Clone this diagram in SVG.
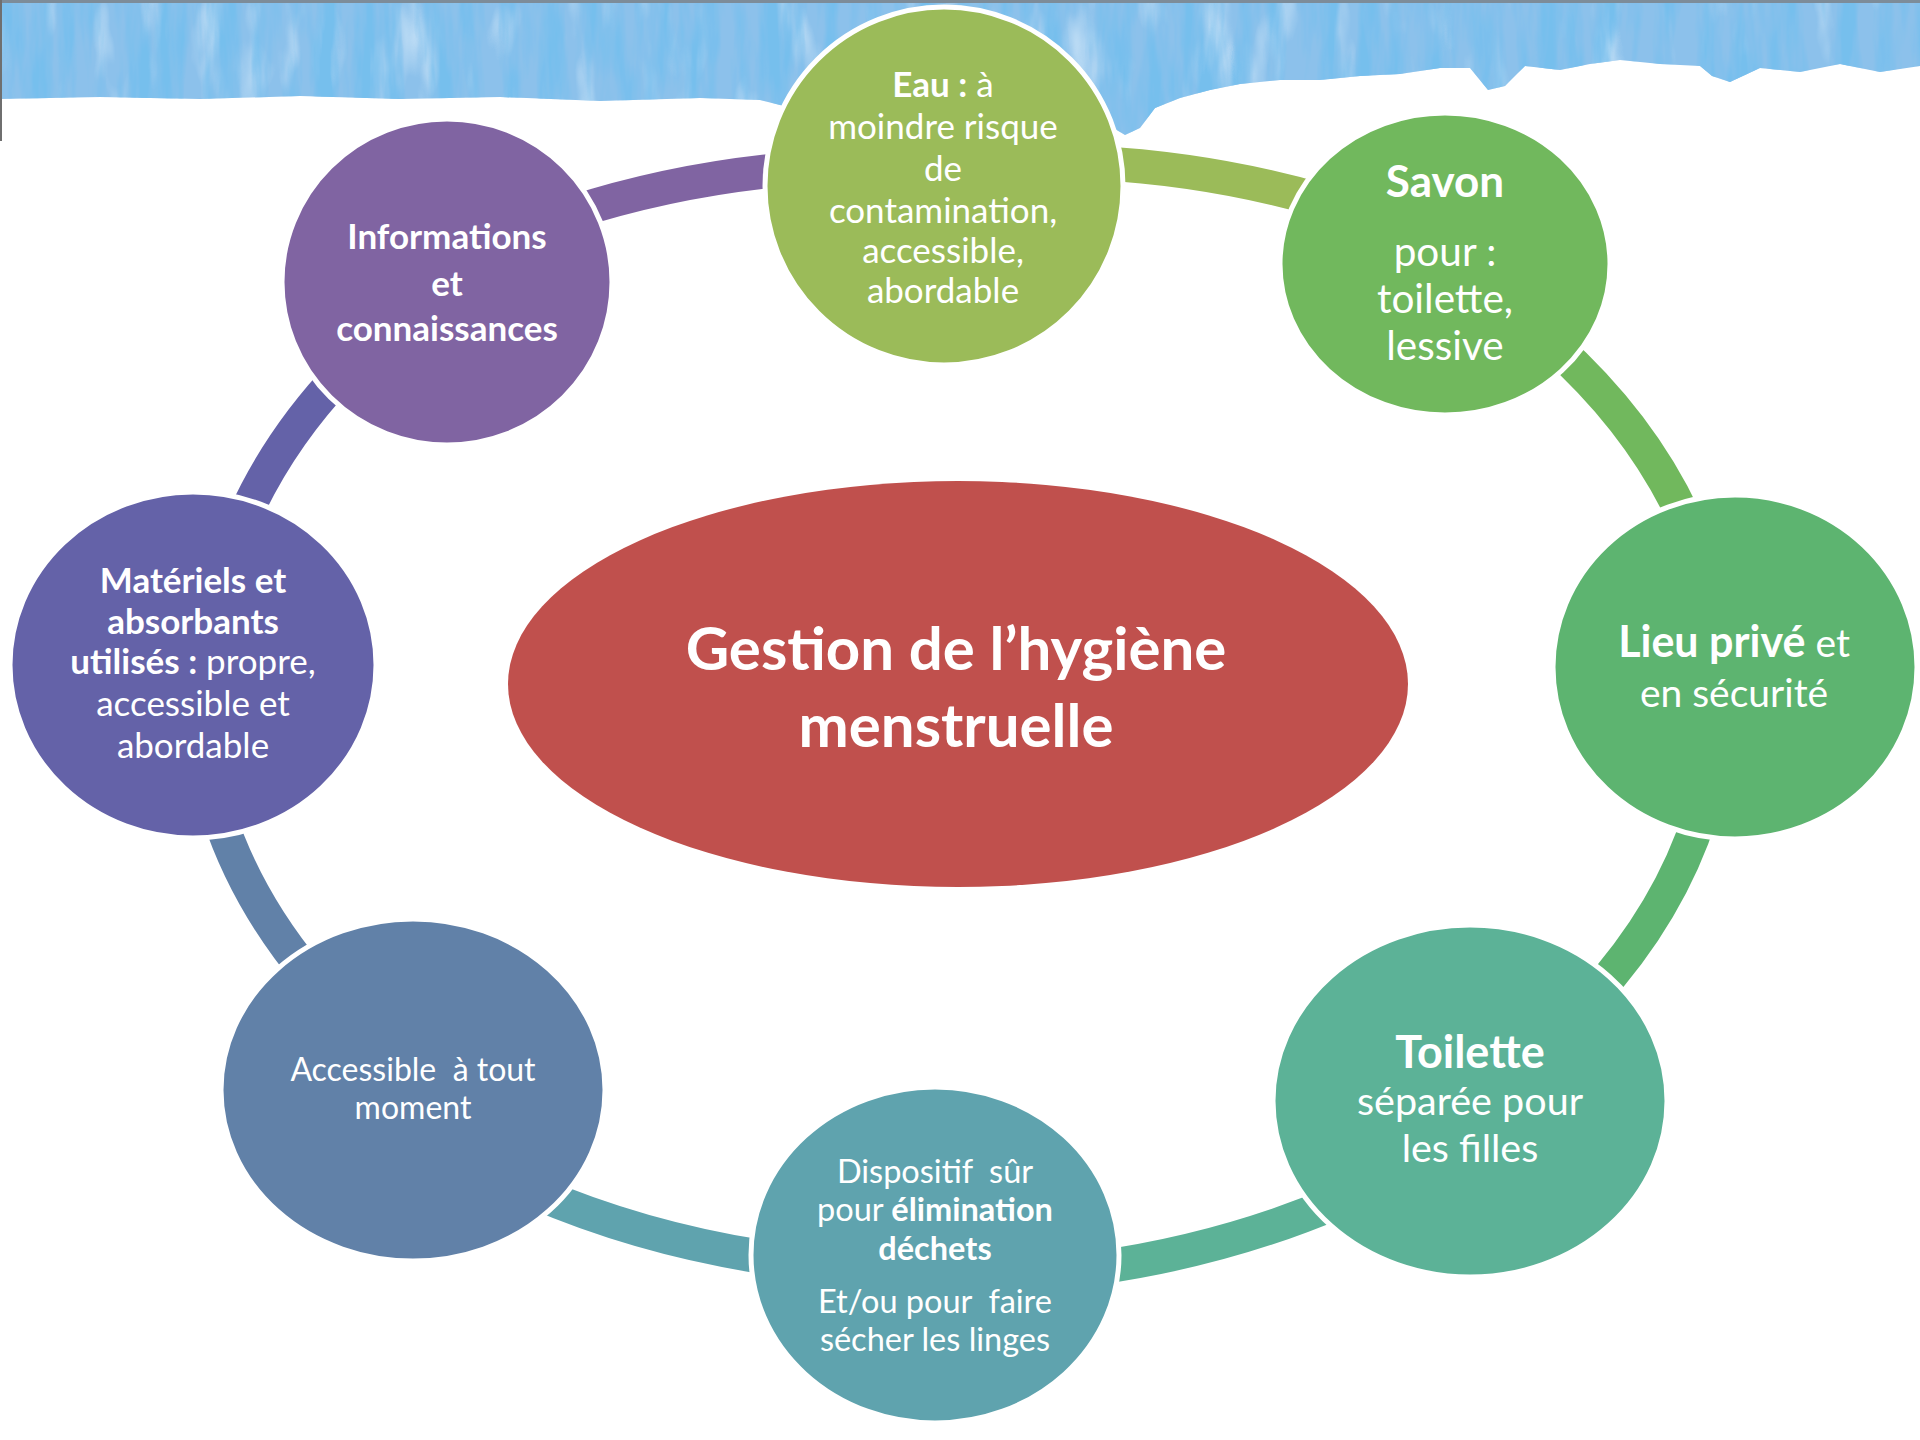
<svg xmlns="http://www.w3.org/2000/svg" width="1920" height="1440" viewBox="0 0 1920 1440">
<style>
.t { font-family: Lato, "Open Sans", "DejaVu Sans", sans-serif; fill: #ffffff; text-anchor: middle; }
.b { font-weight: 700; }
.node { stroke: #ffffff; stroke-width: 5; }
.seg { fill: none; stroke-width: 34; stroke-linecap: butt; }
</style>
<defs>
<filter id="wc" x="0" y="0" width="1920" height="150" filterUnits="userSpaceOnUse">
<feTurbulence type="fractalNoise" baseFrequency="0.05 0.007" numOctaves="4" seed="7" result="n"/>
<feColorMatrix in="n" type="matrix" values="0 0 0 0 0.18  0 0 0 0 0.52  0 0 0 0 0.85  3.0 0 0 0 -1.2"/>
</filter>
<filter id="wc2" x="0" y="0" width="1920" height="150" filterUnits="userSpaceOnUse">
<feTurbulence type="fractalNoise" baseFrequency="0.03 0.01" numOctaves="3" seed="21" result="n"/>
<feColorMatrix in="n" type="matrix" values="0 0 0 0 0.78  0 0 0 0 0.89  0 0 0 0 0.98  1.6 0 0 0 -0.85"/>
</filter>
<clipPath id="wclip">
<path d="M0,0 H1920 V66 L1880,72 L1840,64 L1800,72 L1760,68 L1730,82 L1712,76 L1700,66 L1660,64 L1620,60 L1590,64 L1560,70 L1525,66 L1505,86 L1488,90 L1470,68 L1440,68 L1400,74 L1360,76 L1320,80 L1280,80 L1240,84 L1210,90 L1180,98 L1155,108 L1140,128 L1125,135 L1100,120 L800,110 L760,100 L700,98 L600,101 L500,97 L400,99 L300,96 L200,99 L100,97 L0,99 Z"/>
</clipPath>
</defs>
<rect x="0" y="0" width="1920" height="1440" fill="#ffffff"/>
<g id="background">
<path d="M0,0 H1920 V66 L1880,72 L1840,64 L1800,72 L1760,68 L1730,82 L1712,76 L1700,66 L1660,64 L1620,60 L1590,64 L1560,70 L1525,66 L1505,86 L1488,90 L1470,68 L1440,68 L1400,74 L1360,76 L1320,80 L1280,80 L1240,84 L1210,90 L1180,98 L1155,108 L1140,128 L1125,135 L1100,120 L800,110 L760,100 L700,98 L600,101 L500,97 L400,99 L300,96 L200,99 L100,97 L0,99 Z" fill="#8cc1eb"/>
<rect x="0" y="0" width="1920" height="150" filter="url(#wc2)" clip-path="url(#wclip)"/>
<rect x="0" y="0" width="1920" height="150" filter="url(#wc)" clip-path="url(#wclip)"/>
<line x1="0" y1="1.5" x2="1920" y2="1.5" stroke="#7d8c99" stroke-width="3"/>
<line x1="1" y1="0" x2="1" y2="141" stroke="#6f6f6f" stroke-width="2"/>
</g>
<g id="connectors">
<path class="seg" stroke="#8064A2" d="M571,213 A770,560 0 0 1 791,169"/>
<path class="seg" stroke="#9BBB59" d="M1097,163 A770,560 0 0 1 1323,201"/>
<path class="seg" stroke="#71B85D" d="M1553,345 A770,560 0 0 1 1688,526"/>
<path class="seg" stroke="#5DB470" d="M1701,813 A770,560 0 0 1 1592,997"/>
<path class="seg" stroke="#5CB297" d="M1337,1202 A770,560 0 0 1 1096,1268"/>
<path class="seg" stroke="#5FA3AE" d="M776,1259 A770,560 0 0 1 534,1192"/>
<path class="seg" stroke="#6181A8" d="M309,975 A770,560 0 0 1 218,813"/>
<path class="seg" stroke="#6462A8" d="M242,522 A770,560 0 0 1 342,373"/>
</g>
<g id="center">
<ellipse cx="958" cy="684" rx="450" ry="203" fill="#C0504D"/>
<text class="t b" x="956" y="670" font-size="60">Gestion de l’hygiène</text>
<text class="t b" x="956" y="747" font-size="60">menstruelle</text>
</g>
<g id="eau">
<circle class="node" cx="944" cy="186" r="179" fill="#9BBB59"/>
<text class="t" font-size="35" x="943" y="97"><tspan class="b">Eau :</tspan> à</text>
<text class="t" font-size="35" x="943" y="139">moindre risque</text>
<text class="t" font-size="35" x="943" y="181">de</text>
<text class="t" font-size="35" x="943" y="223">contamination,</text>
<text class="t" font-size="35" x="943" y="263">accessible,</text>
<text class="t" font-size="35" x="943" y="303">abordable</text>
</g>
<g id="savon">
<ellipse class="node" cx="1445" cy="264" rx="165" ry="151" fill="#71B85D"/>
<text class="t b" font-size="44" x="1445" y="197">Savon</text>
<text class="t" font-size="40.5" x="1445" y="266">pour :</text>
<text class="t" font-size="40.5" x="1445" y="313">toilette,</text>
<text class="t" font-size="40.5" x="1445" y="360">lessive</text>
</g>
<g id="lieu">
<ellipse class="node" cx="1735" cy="667" rx="182" ry="172" fill="#5DB470"/>
<text class="t" font-size="39" x="1734" y="657"><tspan class="b" font-size="43">Lieu privé</tspan> et</text>
<text class="t" font-size="39" x="1734" y="707">en sécurité</text>
</g>
<g id="toilette">
<ellipse class="node" cx="1470" cy="1101" rx="197" ry="176" fill="#5CB297"/>
<text class="t b" font-size="45" x="1470" y="1068">Toilette</text>
<text class="t" font-size="39.5" x="1470" y="1115">séparée pour</text>
<text class="t" font-size="39.5" x="1470" y="1162">les filles</text>
</g>
<g id="dispositif">
<ellipse class="node" cx="935" cy="1255" rx="184" ry="168" fill="#5FA3AE"/>
<text class="t" font-size="32.5" x="935" y="1183" xml:space="preserve">Dispositif  sûr</text>
<text class="t" font-size="32.5" x="935" y="1221">pour <tspan class="b">élimination</tspan></text>
<text class="t b" font-size="32.5" x="935" y="1260">déchets</text>
<text class="t" font-size="32.5" x="935" y="1313" xml:space="preserve">Et/ou pour  faire</text>
<text class="t" font-size="32.5" x="935" y="1351">sécher les linges</text>
</g>
<g id="accessible">
<ellipse class="node" cx="413" cy="1090" rx="192" ry="171" fill="#6181A8"/>
<text class="t" font-size="32" x="413" y="1081" xml:space="preserve">Accessible  à tout</text>
<text class="t" font-size="32" x="413" y="1119">moment</text>
</g>
<g id="materiels">
<ellipse class="node" cx="193" cy="665" rx="183" ry="173" fill="#6462A8"/>
<text class="t b" font-size="35" x="193" y="593">Matériels et</text>
<text class="t b" font-size="35" x="193" y="634">absorbants</text>
<text class="t" font-size="35" x="193" y="674"><tspan class="b">utilisés :</tspan> propre,</text>
<text class="t" font-size="35" x="193" y="716">accessible et</text>
<text class="t" font-size="35" x="193" y="758">abordable</text>
</g>
<g id="informations">
<ellipse class="node" cx="447" cy="282" rx="165" ry="163" fill="#8064A2"/>
<text class="t b" font-size="35" x="447" y="249">Informations</text>
<text class="t b" font-size="35" x="447" y="296">et</text>
<text class="t b" font-size="35" x="447" y="341">connaissances</text>
</g>
</svg>
